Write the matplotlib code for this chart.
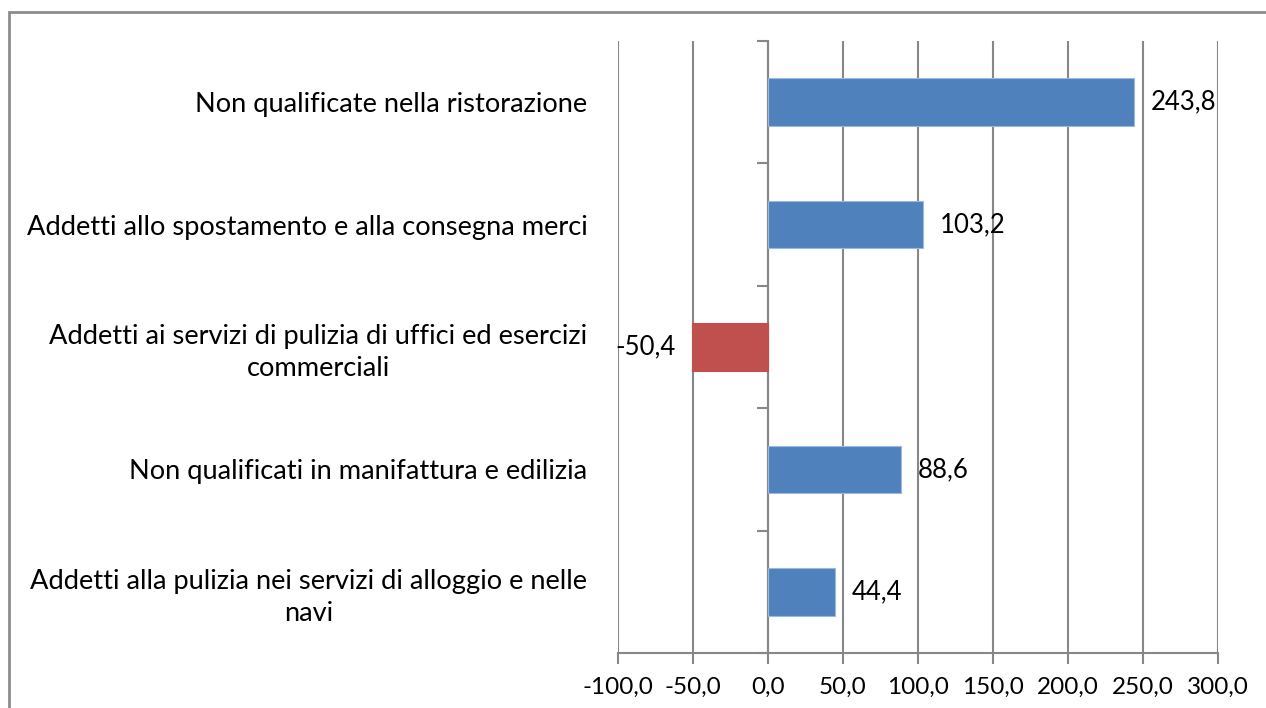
import matplotlib

matplotlib.use("Agg")
import matplotlib.pyplot as plt
from matplotlib.patches import Rectangle
from matplotlib.ticker import FuncFormatter, MultipleLocator

categories = [
    "Non qualificate nella ristorazione",
    "Addetti allo spostamento e alla consegna merci",
    "Addetti ai servizi di pulizia di uffici ed esercizi\ncommerciali",
    "Non qualificati in manifattura e edilizia",
    "Addetti alla pulizia nei servizi di alloggio e nelle\nnavi",
]
values = [243.8, 103.2, -50.4, 88.6, 44.4]
value_labels = ["243,8", "103,2", "-50,4", "88,6", "44,4"]

BLUE = "#4F81BD"
RED = "#C0504D"
GRID = "#878787"
FONT = "Lato"
FS_CAT = 19.6
FS_VAL = 18.5
FS_TICK = 17.5

plt.rcParams["font.family"] = [FONT, "DejaVu Sans"]

fig = plt.figure(figsize=(12.66, 7.08), dpi=100)
ax = fig.add_axes([618 / 1266, 1 - 653 / 708, 600 / 1266, 612 / 708])

xmin, xmax = -100, 300
n = len(categories)
pos = list(range(n))
colors = [RED if v < 0 else BLUE for v in values]
ax.barh(pos, values, height=0.39, color=colors,
        edgecolor=[("#9DB8DA" if v >= 0 else RED) for v in values],
        linewidth=0.8, zorder=3)

for p, v, lab in zip(pos, values, value_labels):
    if v >= 0:
        ax.annotate(lab, (v, p), xytext=(12, 0), textcoords="offset points",
                    ha="left", va="center", fontsize=FS_VAL, color="black")
    else:
        ax.annotate(lab, (v, p), xytext=(-12, 0), textcoords="offset points",
                    ha="right", va="center", fontsize=FS_VAL, color="black")

ax.set_xlim(xmin, xmax)
ax.set_ylim(n - 0.5, -0.5)
ax.xaxis.set_major_locator(MultipleLocator(50))
ax.xaxis.set_major_formatter(FuncFormatter(lambda x, _: f"{x:.1f}".replace(".", ",")))
ax.grid(axis="x", color=GRID, lw=1.5, zorder=0)
ax.set_axisbelow(True)

for s in ("top", "right", "left"):
    ax.spines[s].set_visible(False)
ax.spines["bottom"].set_color(GRID)
ax.spines["bottom"].set_linewidth(1.5)
ax.tick_params(axis="x", length=8, width=1.5, color=GRID, pad=9, labelsize=FS_TICK)

ax.set_yticks(pos)
ax.set_yticklabels(categories, fontsize=FS_CAT, multialignment="center", linespacing=1.35)
ax.tick_params(axis="y", length=0, pad=22)

# category axis at x = 0 with tick marks between categories
zero_axis = ax.secondary_yaxis((0 - xmin) / (xmax - xmin))
zero_axis.set_yticks([p - 0.5 for p in pos] + [n - 0.5])
zero_axis.set_yticklabels([])
zero_axis.tick_params(length=8, width=1.5, color=GRID)
zero_axis.spines["left"].set_color(GRID)
zero_axis.spines["left"].set_linewidth(1.5)

fig.patches.append(Rectangle((9 / 1266, -0.05), 1.1, 1 - 12 / 708 + 0.05,
                             transform=fig.transFigure, fill=False,
                             edgecolor="#8C8C8C", lw=2.0))

fig.savefig("out.png", dpi=100)
